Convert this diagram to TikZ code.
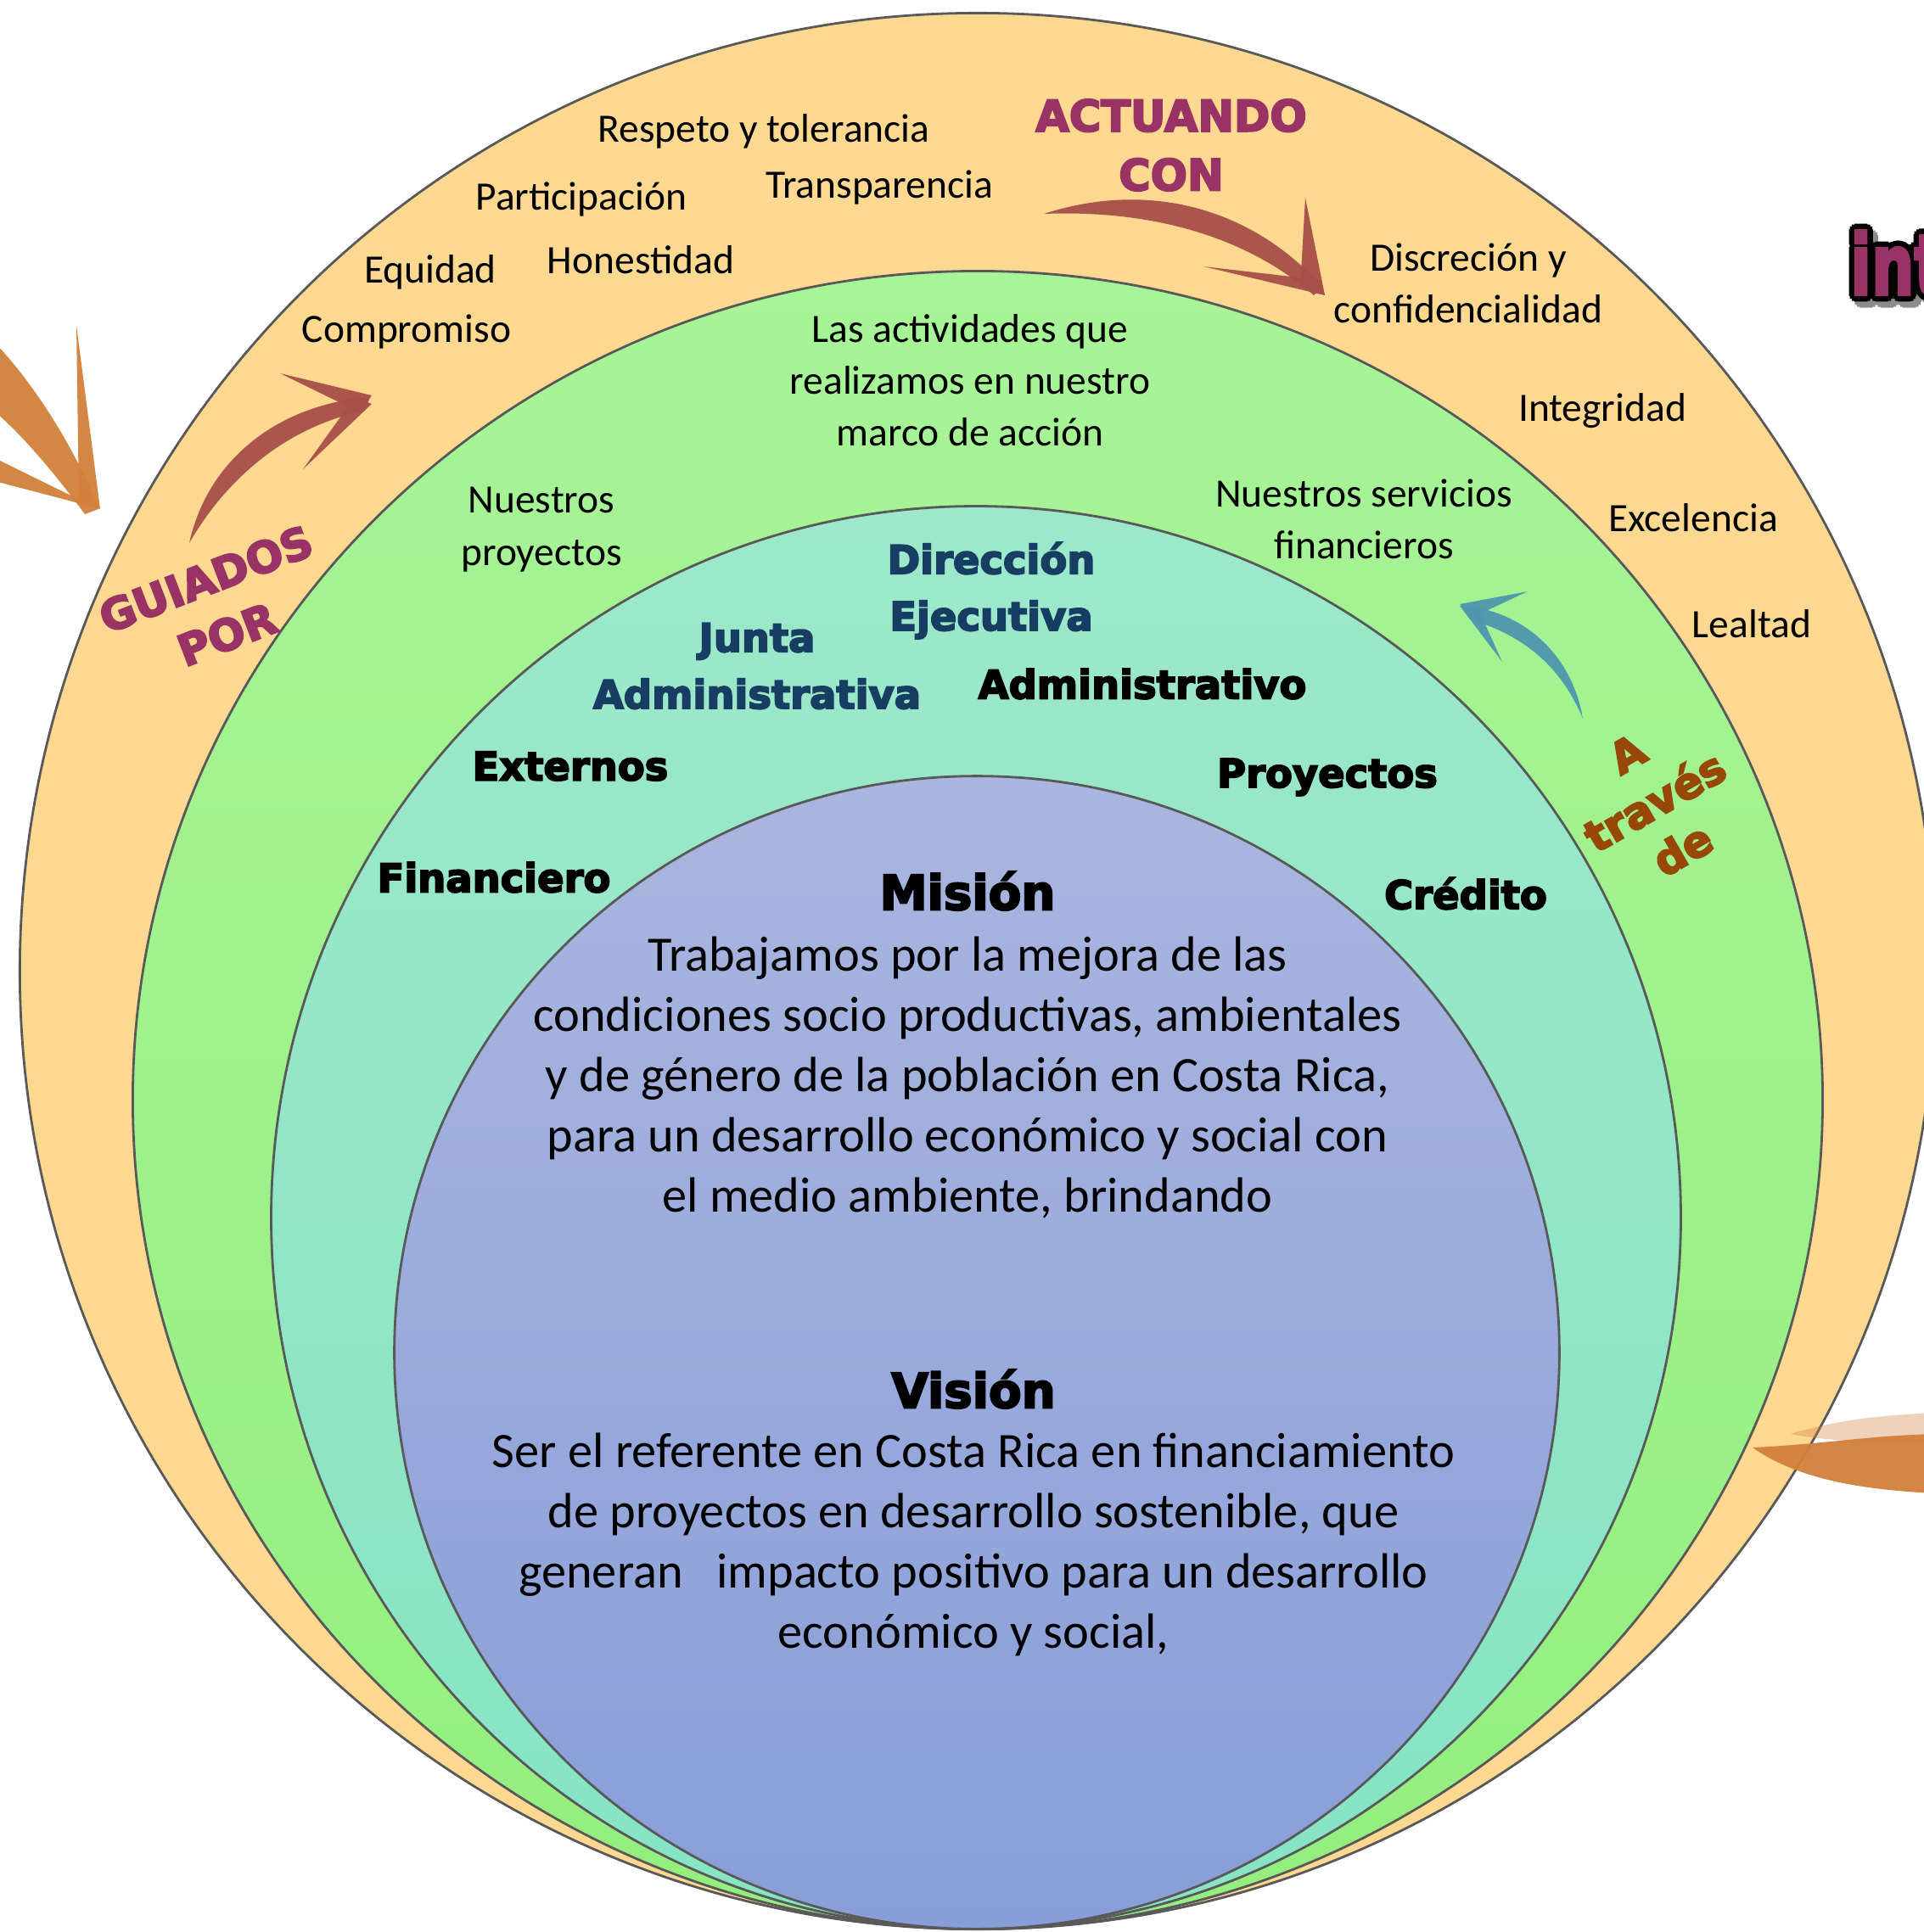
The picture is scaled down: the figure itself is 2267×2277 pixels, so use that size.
\documentclass[tikz,border=0pt]{standalone}
\usepackage{fontspec}
\setmainfont{Carlito}
\newfontfamily\heavy{DejaVu Sans}[BoldFeatures={FakeBold=4}]
\definecolor{ringA}{RGB}{253,216,145}
\definecolor{ringBt}{RGB}{168,244,152}
\definecolor{ringBb}{RGB}{148,239,126}
\definecolor{ringCt}{RGB}{157,232,202}
\definecolor{ringCb}{RGB}{134,228,196}
\definecolor{ringDt}{RGB}{170,182,223}
\definecolor{ringDb}{RGB}{136,158,216}
\definecolor{capc}{RGB}{153,51,102}
\definecolor{brownc}{RGB}{151,71,6}
\definecolor{navyc}{RGB}{23,62,98}
\definecolor{brushr}{RGB}{166,80,74}
\definecolor{brushb}{RGB}{80,150,175}
\definecolor{brusho}{RGB}{210,128,58}
\begin{document}
\begin{tikzpicture}[x=0.01cm,y=-0.01cm,
  smalltxt/.style={font=\fontsize{13.5}{17.4}\selectfont, align=center, text=black, inner sep=0},
  bigtxt/.style={font=\fontsize{16.6}{20.2}\selectfont, align=center, text=black, inner sep=0},
  hdr/.style={font=\heavy\bfseries\fontsize{13.2}{19}\selectfont, align=center, text=black, inner sep=0},
  ttl/.style={font=\heavy\bfseries\fontsize{16}{20}\selectfont, text=black, inner sep=0},
  capword/.style={font=\heavy\bfseries\fontsize{14.5}{19.8}\selectfont, align=center, text=capc, inner sep=0},
  intfont/.style={anchor=base west, inner sep=0, font=\heavy\bfseries\fontsize{28}{30}\selectfont},
  ringdraw/.style={draw=black!65, line width=0.8pt},
  brushred/.style={fill=brushr, draw=none, opacity=0.95},
  brushblue/.style={fill=brushb, draw=none, opacity=0.95},
  brushorange/.style={fill=brusho, draw=none, opacity=0.95},
]
\useasboundingbox (0,0) rectangle (2267,2277);
\clip (0,0) rectangle (2267,2277);
\fill[white] (0,0) rectangle (2267,2277);

% rings
\path[ringdraw, fill=ringA] (1152,1144.5) ellipse [x radius=11.28cm, y radius=11.285cm];
\path[ringdraw, top color=ringBt, bottom color=ringBb] (1152,1296.5) ellipse [x radius=9.95cm, y radius=9.765cm];
\path[ringdraw, top color=ringCt, bottom color=ringCb] (1150,1435) ellipse [x radius=8.30cm, y radius=8.38cm];
\path[ringdraw, top color=ringDt, bottom color=ringDb] (1151,1594) ellipse [x radius=6.86cm, y radius=6.79cm];

% brush arrow: ACTUANDO CON
\fill[brushred] (1230,252) .. controls (1360,210) and (1480,250) .. (1558,338)
   -- (1548,348) .. controls (1470,280) and (1360,247) .. (1230,252) -- cycle;
\fill[brushred] (1538,233) -- (1561,348) -- (1532,338) -- cycle;
\fill[brushred] (1418,314) -- (1556,330) -- (1561,348) -- cycle;

% brush arrow: GUIADOS POR
\fill[brushred] (223,640) .. controls (245,540) and (330,476) .. (436,468)
   -- (430,484) .. controls (340,502) and (268,562) .. (223,640) -- cycle;
\fill[brushred] (330,440) -- (438,466) -- (424,486) -- cycle;
\fill[brushred] (357,553) -- (418,468) -- (438,476) -- cycle;

% brush arrow: A traves de
\fill[brushblue] (1865,847) .. controls (1852,768) and (1790,718) .. (1722,714)
   -- (1732,730) .. controls (1792,748) and (1838,782) .. (1865,847) -- cycle;
\fill[brushblue] (1800,697) -- (1720,712) -- (1736,727) -- cycle;
\fill[brushblue] (1770,780) -- (1720,714) -- (1742,718) -- cycle;

% left orange brush arrow
\fill[brushorange] (-10,400) .. controls (40,450) and (92,535) .. (116,600)
   -- (100,606) .. controls (70,565) and (25,510) .. (-10,482) -- cycle;
\fill[brushorange] (90,383) -- (118,600) -- (93,592) -- cycle;
\fill[brushorange] (-10,538) -- (112,598) -- (-10,566) -- cycle;

% bottom right orange brush
\fill[brusho, opacity=0.35] (2110,1690) .. controls (2170,1672) and (2220,1668) .. (2280,1665)
   -- (2280,1700) .. controls (2220,1700) and (2160,1700) .. (2110,1690) -- cycle;
\fill[brushorange] (2065,1706) .. controls (2150,1702) and (2200,1692) .. (2280,1690)
   -- (2280,1760) .. controls (2200,1756) and (2120,1745) .. (2065,1706) -- cycle;

% "int" outlined text at top right
\foreach \a in {0,30,...,330}
  \node[intfont, text=black!45, shift={(\a:0.065cm)}, xshift=0.06cm, yshift=-0.07cm] at (2180,347) {\scalebox{0.72}[1]{int}};
\foreach \a in {0,30,...,330}
  \node[intfont, text=black, shift={(\a:0.065cm)}] at (2180,347) {\scalebox{0.72}[1]{int}};
\node[intfont, text=capc] (intw) at (2180,347) {\scalebox{0.72}[1]{int}};

% outer ring values
\node[smalltxt] (v1) at (900,155) {Respeto y tolerancia};
\node[smalltxt] (v2) at (685,235) {Participación};
\node[smalltxt] (v3) at (1036,221) {Transparencia};
\node[smalltxt] (v4) at (507,321) {Equidad};
\node[smalltxt] (v5) at (755,306) {Honestidad};
\node[smalltxt] (v6) at (479,391) {Compromiso};
\node[smalltxt] (v7) at (1730,334) {Discreción y\\confidencialidad};
\node[smalltxt] (v8) at (1888,484) {Integridad};
\node[smalltxt] (v9) at (1995,610) {Excelencia};
\node[smalltxt] (v10) at (2064,735) {Lealtad};

\node[capword] (actuando) at (1380,171) {ACTUANDO\\CON};
\node[capword, rotate=21] (guiados) at (255,715) {GUIADOS\\POR};
\node[capword, text=brownc, font=\heavy\bfseries\fontsize{14.5}{18.5}\selectfont, rotate=30] (atraves) at (1950,945) {A\\través\\de};

% green ring
\node[smalltxt] (g1) at (1143,448) {Las actividades que\\realizamos en nuestro\\marco de acción};
\node[smalltxt] (g2) at (638,624) {Nuestros\\proyectos};
\node[smalltxt] (g3) at (1607,612) {Nuestros servicios\\financieros};

% teal ring
\node[hdr, text=navyc] (t1) at (1168,696) {Dirección\\Ejecutiva};
\node[hdr, text=navyc] (t2) at (892,785) {Junta\\Administrativa};
\node[hdr] (t3) at (1346,806) {Administrativo};
\node[hdr] (t4) at (672,903) {Externos};
\node[hdr] (t5) at (1564,916) {Proyectos};
\node[hdr] (t6) at (582,1034) {Financiero};
\node[hdr] (t7) at (1727,1053) {Crédito};

% core
\node[ttl] (mision) at (1140,1050) {Misión};
\node[bigtxt] (mtext) at (1140,1270) {Trabajamos por la mejora de las\\condiciones socio productivas, ambientales\\y de género de la población en Costa Rica,\\para un desarrollo económico y social con\\el medio ambiente, brindando};
\node[ttl] (vision) at (1147,1637) {Visión};
\node[bigtxt] (vtext) at (1147,1820) {Ser el referente en Costa Rica en financiamiento\\de proyectos en desarrollo sostenible, que\\generan~~~impacto positivo para un desarrollo\\económico y social,};
\end{tikzpicture}
\end{document}
